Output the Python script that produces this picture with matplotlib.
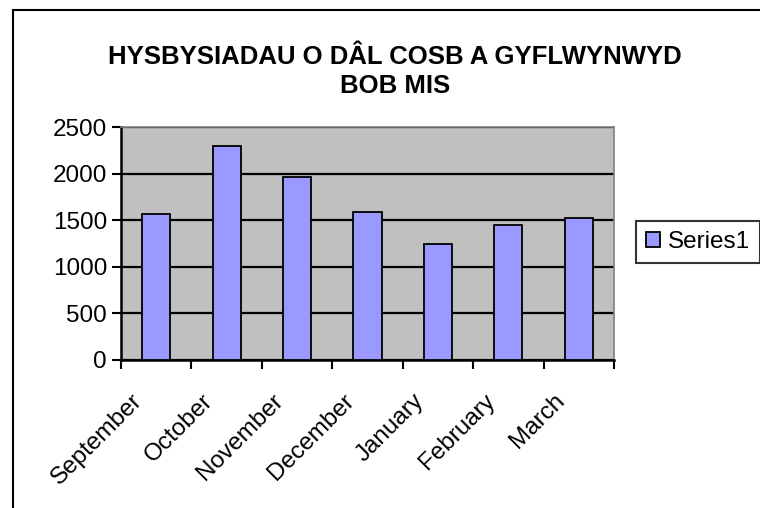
import matplotlib
matplotlib.use("Agg")
import matplotlib.pyplot as plt
import matplotlib.transforms as mtransforms
import numpy as np
from matplotlib.patches import Rectangle

months = ["September", "October", "November", "December", "January", "February", "March"]
values = [1567, 2298, 1968, 1589, 1245, 1447, 1528]
yticks = [0, 500, 1000, 1500, 2000, 2500]
title_lines = ["HYSBYSIADAU O DÂL COSB A GYFLWYNWYD", "BOB MIS"]
series_name = "Series1"

plt.rcParams['font.family'] = ['Liberation Sans', 'DejaVu Sans']

W, H = 760, 508
fig = plt.figure(figsize=(W / 100, H / 100), dpi=100)
fig.patch.set_facecolor("white")

# outer chart border (right and bottom edges lie outside the image)
fig.add_artist(Rectangle((13 / W, -0.05), 1.0, 1.05 - 10 / H,
                         transform=fig.transFigure, fill=False,
                         edgecolor="black", linewidth=1.5))

L, R, T, B = 121, 614, 127, 360
ax = fig.add_axes([L / W, 1 - B / H, (R - L) / W, (B - T) / H])
ax.set_facecolor("#C0C0C0")

x = np.arange(len(months))
bars = ax.bar(x, values, width=0.4, color="#9999FF", edgecolor="black",
              linewidth=1.3, label=series_name, zorder=3)

ax.set_xlim(-0.5, len(months) - 0.5)
ax.set_ylim(0, 2500)
ax.set_yticks(yticks)
ax.set_yticklabels([str(v) for v in yticks], fontsize=17.5)
ax.yaxis.grid(True, color="black", linewidth=1.6, zorder=1)
ax.set_axisbelow(True)

ax.set_xticks(x)
ax.set_xticklabels(months, rotation=45, ha="right", va="center",
                   rotation_mode="anchor", fontsize=17.5)
ax.tick_params(axis="x", which="major", length=0, pad=27)
offset = mtransforms.ScaledTranslation(-17 / 100, 0, fig.dpi_scale_trans)
for lbl in ax.get_xticklabels():
    lbl.set_transform(lbl.get_transform() + offset)
ax.set_xticks(np.arange(-0.5, len(months) + 0.5, 1), minor=True)
ax.tick_params(axis="x", which="minor", length=6.5, width=1.5, direction="out")
ax.tick_params(axis="y", length=6.5, width=1.5, direction="out", pad=3.5)

for s in ["left", "bottom"]:
    ax.spines[s].set_color("black")
    ax.spines[s].set_linewidth(1.8)
for s in ["top", "right"]:
    ax.spines[s].set_color("#808080")
    ax.spines[s].set_linewidth(1.2)

fig.text(395 / W, 1 - 56.7 / H, title_lines[0], ha="center", va="center",
         fontsize=18.5, fontweight="bold")
fig.text(395 / W, 1 - 86.3 / H, title_lines[1], ha="center", va="center",
         fontsize=18.5, fontweight="bold")

leg = fig.legend(handles=[bars], labels=[series_name], loc="center left",
                 bbox_to_anchor=(636 / W, 1 - 242 / H), fontsize=17.5,
                 frameon=True, fancybox=False, edgecolor="black",
                 handlelength=0.58, handleheight=0.58, handletextpad=0.33,
                 borderpad=0.4, borderaxespad=0)
leg.get_frame().set_linewidth(1.5)

fig.savefig("out.png", dpi=100, facecolor="white")
